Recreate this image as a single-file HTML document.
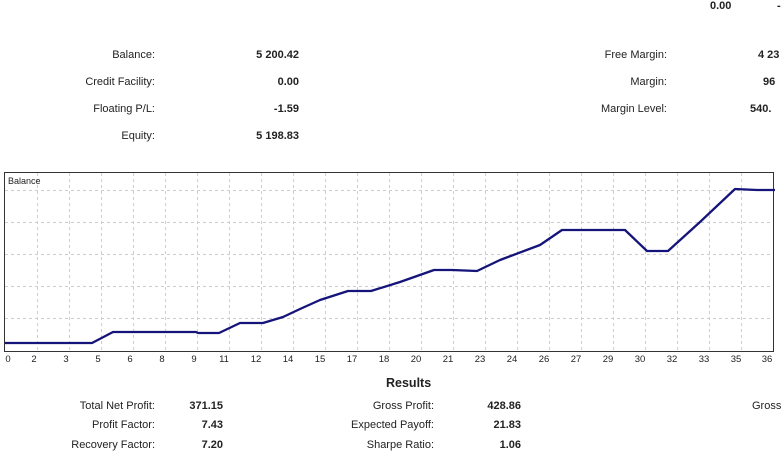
<!DOCTYPE html>
<html><head><meta charset="utf-8"><style>
body{margin:0;width:781px;height:474px;background:#fff;position:relative;overflow:hidden;font-family:"Liberation Sans",sans-serif;font-size:11px;color:#222}
.t{position:absolute;white-space:nowrap;line-height:12px}
.r{text-align:right}
.b{font-weight:bold}
</style></head><body>
<div class="t b" style="left:710px;top:0px">0.00</div>
<div class="t b" style="left:777px;top:0px">-</div>
<div class="t r" style="right:626px;top:49px">Balance:</div>
<div class="t r" style="right:626px;top:76px">Credit Facility:</div>
<div class="t r" style="right:626px;top:103px">Floating P/L:</div>
<div class="t r" style="right:626px;top:130px">Equity:</div>
<div class="t r b" style="right:482px;top:49px">5 200.42</div>
<div class="t r b" style="right:482px;top:76px">0.00</div>
<div class="t r b" style="right:482px;top:103px">-1.59</div>
<div class="t r b" style="right:482px;top:130px">5 198.83</div>
<div class="t r" style="right:114px;top:49px">Free Margin:</div>
<div class="t r" style="right:114px;top:76px">Margin:</div>
<div class="t r" style="right:114px;top:103px">Margin Level:</div>
<div class="t b" style="left:758px;top:49px">4 23</div>
<div class="t b" style="left:763px;top:76px">96</div>
<div class="t b" style="left:750px;top:103px">540.</div>
<svg style="position:absolute;left:0;top:0" width="781" height="370">
<rect x="4.5" y="172.5" width="769" height="179" fill="#fff" stroke="#333" stroke-width="1"/>
<g stroke="#ccc" stroke-dasharray="3,3" stroke-width="1">
<line x1="5" x2="773" y1="190.5" y2="190.5"/><line x1="5" x2="773" y1="222.5" y2="222.5"/><line x1="5" x2="773" y1="254.5" y2="254.5"/><line x1="5" x2="773" y1="286.5" y2="286.5"/><line x1="5" x2="773" y1="318.5" y2="318.5"/>
</g>
<g stroke="#ccc" stroke-dasharray="3,3">
<line x1="37.5" x2="37.5" y1="173" y2="351"/><line x1="69.5" x2="69.5" y1="173" y2="351"/><line x1="101.5" x2="101.5" y1="173" y2="351"/><line x1="133.5" x2="133.5" y1="173" y2="351"/><line x1="165.5" x2="165.5" y1="173" y2="351"/><line x1="197.5" x2="197.5" y1="173" y2="351"/><line x1="229.5" x2="229.5" y1="173" y2="351"/><line x1="261.5" x2="261.5" y1="173" y2="351"/><line x1="293.5" x2="293.5" y1="173" y2="351"/><line x1="325.5" x2="325.5" y1="173" y2="351"/><line x1="357.5" x2="357.5" y1="173" y2="351"/><line x1="389.5" x2="389.5" y1="173" y2="351"/><line x1="421.5" x2="421.5" y1="173" y2="351"/><line x1="453.5" x2="453.5" y1="173" y2="351"/><line x1="485.5" x2="485.5" y1="173" y2="351"/><line x1="517.5" x2="517.5" y1="173" y2="351"/><line x1="549.5" x2="549.5" y1="173" y2="351"/><line x1="581.5" x2="581.5" y1="173" y2="351"/><line x1="613.5" x2="613.5" y1="173" y2="351"/><line x1="645.5" x2="645.5" y1="173" y2="351"/><line x1="677.5" x2="677.5" y1="173" y2="351"/><line x1="709.5" x2="709.5" y1="173" y2="351"/><line x1="741.5" x2="741.5" y1="173" y2="351"/>
</g>
<text x="8" y="184" font-family="Liberation Sans,sans-serif" font-size="9" fill="#222">Balance</text>
<polyline fill="none" stroke="#14147a" stroke-width="2.3" stroke-linejoin="round" points="5,343 92,343 113,332 196,332 198,333 219,333 240,323 263,323 283,317 300,309 320,300 348,291 371,291 400,282 434,270 452,270 477,271 500,260 540,245 562,230 625,230 647,251 668,251 700,222 735,189 757,190 775,190"/>
<g font-family="Liberation Sans,sans-serif" font-size="9.5" fill="#222" text-anchor="middle">
<text x="8" y="362">0</text><text x="34" y="362">2</text><text x="66" y="362">3</text><text x="98" y="362">5</text><text x="130" y="362">6</text><text x="162" y="362">8</text><text x="194" y="362">9</text><text x="224" y="362">11</text><text x="256" y="362">12</text><text x="288" y="362">14</text><text x="320" y="362">15</text><text x="352" y="362">17</text><text x="384" y="362">18</text><text x="416" y="362">20</text><text x="448" y="362">21</text><text x="480" y="362">23</text><text x="512" y="362">24</text><text x="544" y="362">26</text><text x="576" y="362">27</text><text x="608" y="362">29</text><text x="640" y="362">30</text><text x="672" y="362">32</text><text x="704" y="362">33</text><text x="736" y="362">35</text><text x="767" y="362">36</text>
</g>
</svg>
<div class="t b" style="left:386px;top:377px;font-size:12.5px">Results</div>
<div class="t r" style="right:626px;top:400px">Total Net Profit:</div>
<div class="t r" style="right:626px;top:419px">Profit Factor:</div>
<div class="t r" style="right:626px;top:439px">Recovery Factor:</div>
<div class="t r b" style="right:558px;top:400px">371.15</div>
<div class="t r b" style="right:558px;top:419px">7.43</div>
<div class="t r b" style="right:558px;top:439px">7.20</div>
<div class="t r" style="right:347px;top:400px">Gross Profit:</div>
<div class="t r" style="right:347px;top:419px">Expected Payoff:</div>
<div class="t r" style="right:347px;top:439px">Sharpe Ratio:</div>
<div class="t r b" style="right:260px;top:400px">428.86</div>
<div class="t r b" style="right:260px;top:419px">21.83</div>
<div class="t r b" style="right:260px;top:439px">1.06</div>
<div class="t" style="left:752px;top:400px">Gross</div>
</body></html>
